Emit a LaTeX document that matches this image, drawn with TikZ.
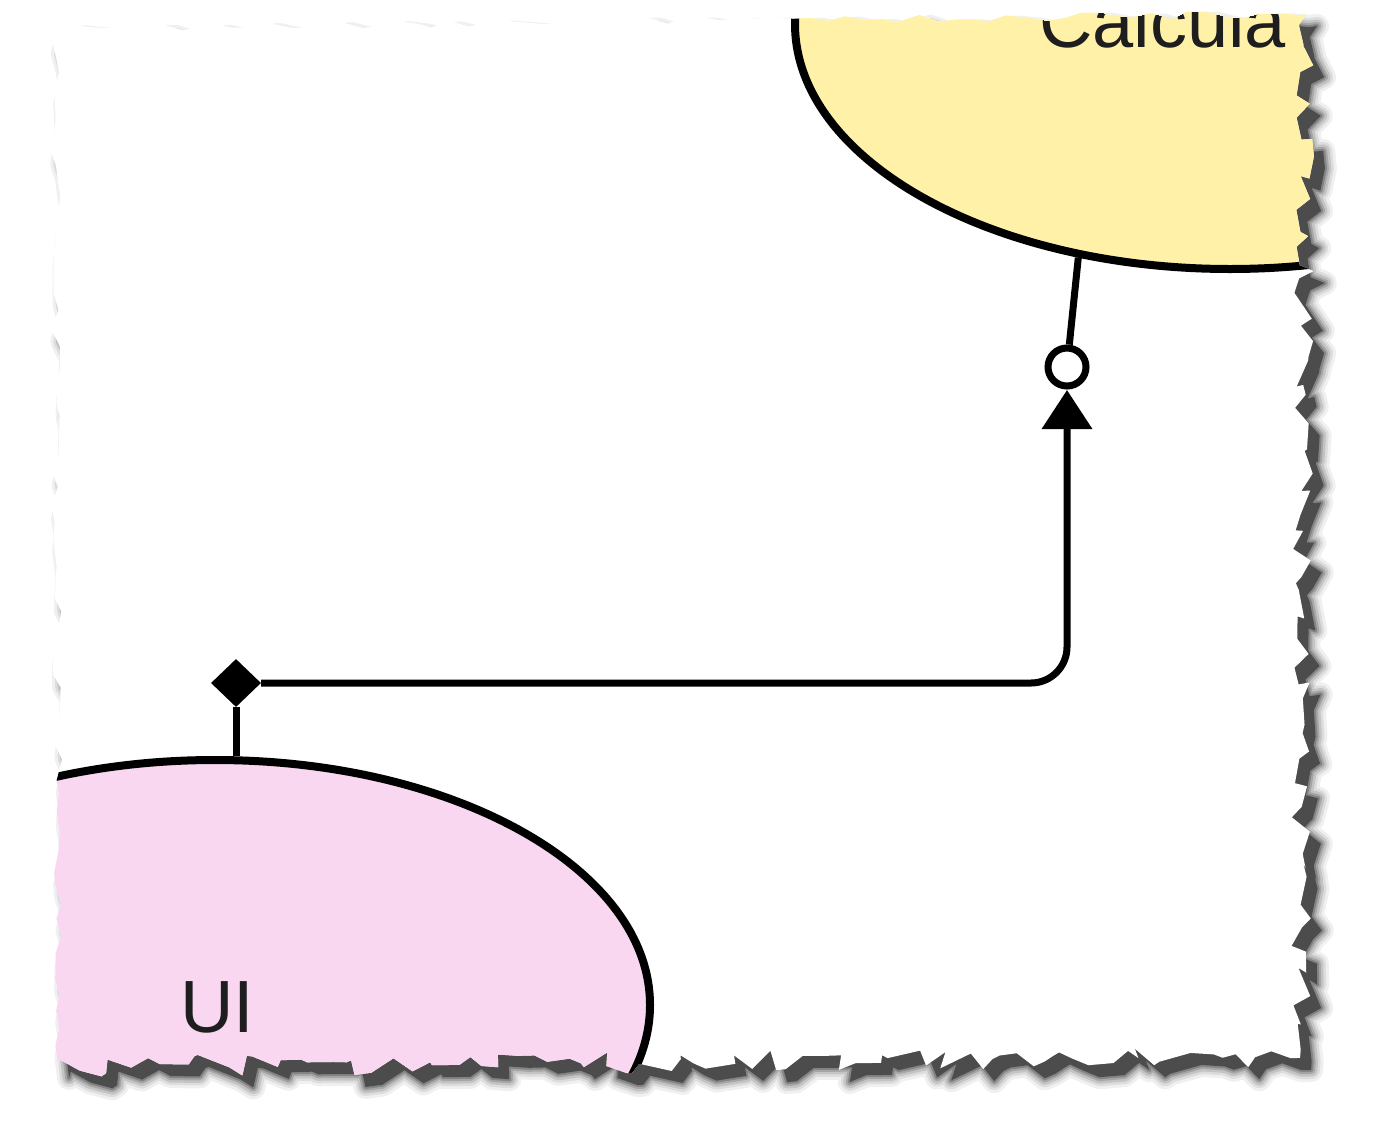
\documentclass[tikz,border=0pt]{standalone}
\usepackage{fontspec}
\setmainfont{Liberation Sans}
\usetikzlibrary{shapes.geometric,arrows.meta,decorations.pathmorphing,calc}
\definecolor{calcfill}{HTML}{FFF2A8}
\definecolor{uifill}{HTML}{F9D7F0}
\definecolor{inktext}{HTML}{1E1E1E}
\newcommand\paperoutline{(55,28)
  decorate[decoration={random steps,segment length=18pt,amplitude=4pt}]{ -- (1306,14)}
  decorate[decoration={random steps,segment length=13pt,amplitude=10pt}]{ -- (1300,1058)}
  decorate[decoration={random steps,segment length=13pt,amplitude=11pt}]{ -- (58,1066)}
  decorate[decoration={random steps,segment length=18pt,amplitude=5pt}]{ -- (55,28)} -- cycle}
\begin{document}
\begin{tikzpicture}[x=1pt,y=-1pt,
  blob/.style={ellipse,draw=black,line width=8pt,minimum width=870pt,minimum height=490pt,inner sep=0pt},
  lbl/.style={font=\fontsize{74}{80}\selectfont,text=inktext,inner sep=0pt},
  conn/.style={draw=black,line width=7pt},
  tipmark/.style={-{Triangle[length=39pt,width=49pt]}}]
\useasboundingbox (0,0) rectangle (1386,1128);
\fill[white] (0,0) rectangle (1386,1128);
% shadow of the torn sheet
\begin{scope}[shift={(11,12)}]
  \foreach \w/\o in {24/0.06,18/0.08,13/0.11,8/0.15,4/0.2}{
    \pgfmathsetseed{4242}
    \draw[line width=\w pt,black,opacity=\o,line join=round] \paperoutline;
  }
  \pgfmathsetseed{4242}
  \fill[black!70] \paperoutline;
\end{scope}
% the sheet
\pgfmathsetseed{4242}
\fill[white] \paperoutline;
\begin{scope}
  \pgfmathsetseed{4242}
  \clip \paperoutline;
  \node[blob,fill=calcfill] (calc) at (1230,24) {};
  \node[blob,fill=uifill] (ui) at (215,1005) {};
  \node[lbl,anchor=base west] (calctext) at (1039,47) {Calcula};
  \node[lbl,anchor=base] (uitext) at (217,1032) {UI};
  \node[diamond,fill=black,inner sep=0pt,minimum width=50pt,minimum height=48pt] (dia) at (236,683) {};
  \coordinate (tip) at (1067,390);
  \node[circle,draw=black,fill=white,line width=7pt,minimum size=38pt,inner sep=0pt] (ring) at (1067,367) {};
  \draw[conn] (dia.south) -- (dia |- ui.north);
  \draw[conn,rounded corners=36pt,tipmark] (dia.east) -| (tip);
  \draw[conn] (ring) -- (calc.237);
\end{scope}
\end{tikzpicture}
\end{document}
